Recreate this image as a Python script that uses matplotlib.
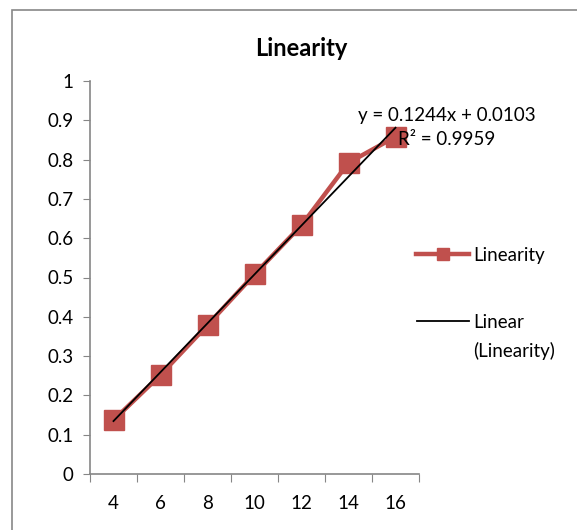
import matplotlib
matplotlib.use("Agg")
import matplotlib.pyplot as plt
from matplotlib.lines import Line2D
from matplotlib.patches import Rectangle
import numpy as np

plt.rcParams['font.family'] = ['Lato', 'DejaVu Sans']

categories = ['4', '6', '8', '10', '12', '14', '16']
values = [0.137, 0.252, 0.379, 0.508, 0.633, 0.792, 0.858]
slope = 0.1244
intercept = 0.0103
eq_text = 'y = 0.1244x + 0.0103'
r2_text = 'R² = 0.9959'
title = 'Linearity'
series_label = 'Linearity'
trend_label = 'Linear\n(Linearity)'

W, H = 577, 530
fig = plt.figure(figsize=(W / 100, H / 100), dpi=100)

def fx(px):
    return px / W

def fy(py):
    return 1 - py / H

FS = 13.5

# chart border
fig.patches.append(Rectangle((fx(12), fy(560)), fx(600), 560 / H - 10 / H,
                             transform=fig.transFigure, fill=False,
                             edgecolor='#888888', linewidth=1.2))

ax = fig.add_axes([fx(90), fy(474), fx(419) - fx(90), fy(81) - fy(474)])

red = '#C0504D'
idx = np.arange(len(categories))
ax.plot(idx, values, color=red, linewidth=3.2, marker='s', markersize=14,
        markeredgecolor=red, markerfacecolor=red, zorder=3)

# trendline (x in Excel = category index 1..n)
xt = np.array([idx[0], idx[-1]])
yt = slope * (xt + 1) + intercept
ax.plot(xt, yt, color='black', linewidth=1.3, zorder=4)

ax.set_xlim(-0.5, len(categories) - 0.5)
ax.set_ylim(0, 1)
ax.set_yticks(np.arange(0, 1.01, 0.1))
ax.set_yticklabels(['0'] + [f'{v:.1f}' for v in np.arange(0.1, 0.95, 0.1)] + ['1'])
ax.set_xticks(np.arange(-0.5, len(categories), 1.0))
ax.set_xticklabels([])
ax.set_xticks(idx, minor=True)
ax.set_xticklabels(categories, minor=True)
ax.tick_params(axis='x', which='minor', length=0, pad=15, labelsize=FS)
ax.tick_params(axis='x', which='major', length=6, color='#868686', direction='out')
ax.tick_params(axis='y', length=5, color='#868686', direction='out', pad=7, labelsize=FS)

for s in ['top', 'right']:
    ax.spines[s].set_visible(False)
for s in ['left', 'bottom']:
    ax.spines[s].set_color('#868686')
    ax.spines[s].set_linewidth(1.2)

fig.text(fx(301), fy(48), title, ha='center', va='center', fontsize=17, fontweight='bold')
fig.text(fx(447), fy(116), eq_text, ha='center', va='center', fontsize=FS)
fig.text(fx(447), fy(140), r2_text, ha='center', va='center', fontsize=FS)

# legend
fig.add_artist(Line2D([fx(416), fx(469)], [fy(254), fy(254)], transform=fig.transFigure,
                      color=red, linewidth=3.2, marker=None))
fig.add_artist(Line2D([fx(442.5)], [fy(254)], transform=fig.transFigure,
                      color=red, marker='s', markersize=8, linestyle='none'))
fig.text(fx(473), fy(256), series_label, ha='left', va='center', fontsize=FS)
fig.add_artist(Line2D([fx(417), fx(469)], [fy(321), fy(321)], transform=fig.transFigure,
                      color='black', linewidth=1.3))
fig.text(fx(473), fy(322), trend_label.split('\n')[0], ha='left', va='center', fontsize=FS)
fig.text(fx(473), fy(351), trend_label.split('\n')[1], ha='left', va='center', fontsize=FS)

fig.savefig('out.png', dpi=100)
